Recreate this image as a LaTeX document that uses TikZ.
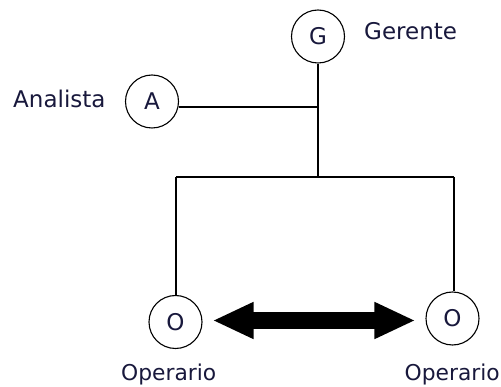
\documentclass[tikz,border=0pt]{standalone}
\usepackage{fontspec}
\setmainfont{DejaVu Sans}
\usetikzlibrary{arrows.meta,calc}
\definecolor{txt}{RGB}{24,24,60}
\tikzset{
  person/.style={circle,draw=black,line width=1.1pt,minimum size=53pt,inner sep=0pt,
    font=\fontsize{23}{27}\selectfont,text=txt},
  lbl/.style={inner sep=0pt,font=\fontsize{23}{27}\selectfont,text=txt},
  lblo/.style={lbl,font=\fontsize{21.8}{26}\selectfont},
  wire/.style={draw=black,line width=1.4pt},
  bigarrow/.style={line width=17pt,
    {Triangle[length=41pt,width=34pt]}-{Triangle[length=41pt,width=34pt]}}
}
\begin{document}
\begin{tikzpicture}[x=1pt,y=-1pt]
\useasboundingbox (0,0) rectangle (501,387);
\node[person] (g) at (318,36.5) {\raisebox{-3pt}{G}};
\node[person] (a) at (152,101.5) {\raisebox{1pt}{A}};
\node[person] (o1) at (175.5,322) {\raisebox{-6pt}{O}};
\node[person] (o2) at (452.5,318.5) {\raisebox{-1pt}{O}};
\node[lbl,anchor=west] (lg) at (364,31) {Gerente};
\node[lbl,anchor=west] (la) at (13,98.5) {Analista};
\node[lblo,anchor=base west] (lo1) at (121,381) {Operario};
\node[lblo,anchor=base west] (lo2) at (404.5,381) {Operario};
\coordinate (j1) at (318,107);
\coordinate (j2) at (318,177);
\coordinate (bl) at (176,177);
\coordinate (br) at (454,177);
\coordinate (ay) at (0,320.5);
\draw[wire] (g.south) -- (j2);
\draw[wire] (a.east |- j1) -- (j1);
\draw[wire] (bl) -- (br);
\draw[wire] (bl) -- (bl |- o1.north);
\draw[wire] (br) -- (br |- o2.north);
\draw[bigarrow] ($(o1.east |- ay)+(10,0)$) -- ($(o2.west |- ay)+(-10,0)$);
\end{tikzpicture}
\end{document}
